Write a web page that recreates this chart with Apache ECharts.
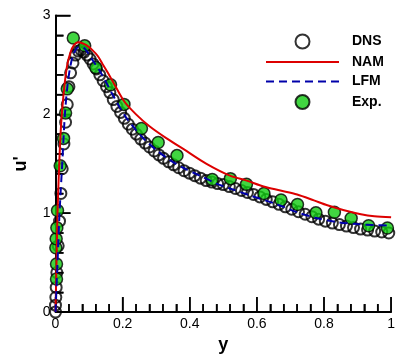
<!DOCTYPE html>
<html>
<head>
<meta charset="utf-8">
<script src="https://cdn.jsdelivr.net/npm/echarts@6/dist/echarts.min.js"></script>
<style>
  html, body { margin: 0; padding: 0; background: #fff; }
  #chart { width: 398px; height: 359px; }
</style>
</head>
<body>
<div id="chart"></div>
<script>
// DNS (open circles)
const dnsX = [0.000, 0.000, 0.001, 0.002, 0.004, 0.008, 0.012, 0.016, 0.020, 0.025, 0.030, 0.035, 0.040, 0.045,
  0.052, 0.060, 0.068, 0.076, 0.085, 0.094, 0.103, 0.112, 0.122, 0.132, 0.142, 0.152, 0.162, 0.172, 0.183,
  0.194, 0.205, 0.217, 0.229, 0.241, 0.254, 0.267, 0.280, 0.294, 0.308, 0.322, 0.337, 0.352, 0.367, 0.383,
  0.399, 0.415, 0.432, 0.449, 0.466, 0.483, 0.500, 0.518, 0.536, 0.554, 0.572, 0.590, 0.609, 0.628, 0.647,
  0.666, 0.685, 0.704, 0.724, 0.744, 0.764, 0.784, 0.804, 0.825, 0.846, 0.867, 0.888, 0.909, 0.930, 0.951,
  0.972, 0.993];
const dnsY = [0.00, 0.07, 0.15, 0.25, 0.40, 0.67, 0.92, 1.20, 1.45, 1.70, 1.92, 2.10, 2.28, 2.42,
  2.52, 2.60, 2.64, 2.65, 2.63, 2.60, 2.56, 2.51, 2.46, 2.40, 2.34, 2.28, 2.22, 2.15, 2.08,
  2.02, 1.96, 1.90, 1.85, 1.80, 1.75, 1.71, 1.67, 1.63, 1.59, 1.555, 1.52, 1.49, 1.46, 1.43,
  1.405, 1.38, 1.355, 1.33, 1.315, 1.30, 1.29, 1.27, 1.25, 1.23, 1.21, 1.19, 1.165, 1.14, 1.115,
  1.09, 1.065, 1.04, 1.015, 0.99, 0.965, 0.94, 0.92, 0.90, 0.885, 0.87, 0.855, 0.84, 0.83, 0.82,
  0.81, 0.80];

// NAM (red solid line)
const namX = [0.000, 0.003, 0.006, 0.010, 0.015, 0.020, 0.027, 0.035, 0.045, 0.055, 0.067, 0.080, 0.092,
  0.110, 0.126, 0.140, 0.156, 0.176, 0.205, 0.240, 0.280, 0.330, 0.390, 0.450, 0.520, 0.570, 0.620,
  0.670, 0.720, 0.770, 0.810, 0.860, 0.910, 0.950, 1.000];
const namY = [0.00, 0.50, 1.00, 1.40, 1.80, 2.05, 2.30, 2.50, 2.63, 2.70, 2.73, 2.72, 2.70,
  2.65, 2.59, 2.51, 2.42, 2.30, 2.13, 2.00, 1.88, 1.76, 1.63, 1.50, 1.38, 1.33, 1.27,
  1.23, 1.19, 1.13, 1.08, 1.03, 0.99, 0.97, 0.96];

// LFM (blue dashed line)
const lfmX = [0.000, 0.006, 0.012, 0.020, 0.028, 0.036, 0.045, 0.055, 0.068, 0.080, 0.095, 0.110, 0.130,
  0.150, 0.170, 0.190, 0.210, 0.240, 0.270, 0.300, 0.340, 0.380, 0.430, 0.480, 0.520, 0.580, 0.660,
  0.720, 0.780, 0.840, 0.900, 0.950, 1.000];
const lfmY = [0.00, 0.50, 1.00, 1.50, 2.00, 2.30, 2.50, 2.62, 2.68, 2.68, 2.63, 2.55, 2.45,
  2.33, 2.20, 2.08, 1.97, 1.84, 1.73, 1.64, 1.54, 1.46, 1.38, 1.30, 1.25, 1.18, 1.09,
  1.01, 0.95, 0.91, 0.89, 0.88, 0.876];

// Exp. (green dots)
const expX = [0.003, 0.003, 0.001, 0.002, 0.004, 0.006, 0.014, 0.024, 0.030, 0.035, 0.053, 0.087, 0.120,
  0.164, 0.204, 0.256, 0.306, 0.362, 0.467, 0.521, 0.569, 0.621, 0.672, 0.721, 0.776, 0.831, 0.881,
  0.933, 0.989];
const expY = [0.334, 0.486, 0.651, 0.741, 0.852, 1.028, 1.481, 1.757, 2.014, 2.258, 2.772, 2.693, 2.473,
  2.299, 2.101, 1.857, 1.715, 1.583, 1.341, 1.350, 1.292, 1.200, 1.133, 1.089, 1.004, 1.010, 0.949,
  0.873, 0.850];

// tick marks: major at labels, minor 4 between each pair
const xMajor = [0, 0.2, 0.4, 0.6, 0.8, 1];
const yMajor = [0, 1, 2, 3];
const minorSplit = 5;

const zip = (xs, ys) => xs.map((x, i) => [x, ys[i]]);

function axis(isX) {
  return {
    type: 'value', min: 0, max: isX ? 1 : 3, interval: isX ? 0.2 : 1,
    name: isX ? 'y' : "u'", nameLocation: 'middle', nameGap: isX ? 20 : 25, nameRotate: isX ? 0 : 90,
    nameTextStyle: { color: '#000', fontWeight: 'bold', fontSize: 18 },
    axisLine: { show: true, lineStyle: { color: '#000', width: 2 } },
    axisTick: { show: true, inside: true, length: 15, lineStyle: { color: '#000', width: 1.5 } },
    minorTick: { show: true, splitNumber: minorSplit, length: 8, lineStyle: { color: '#000', width: 1.5 } },
    splitLine: { show: false },
    axisLabel: { color: '#000', fontSize: 14, margin: 5 }
  };
}

let myChart = echarts.init(document.getElementById('chart'));
myChart.setOption({
  animation: false,
  grid: { left: 55.5, right: 3.5, top: 15.5, bottom: 33.5 },
  legend: {
    data: [
      { name: 'DNS' },
      { name: 'NAM', itemStyle: { opacity: 0 } },
      { name: 'LFM', itemStyle: { opacity: 0 } },
      { name: 'Exp.' }
    ],
    orient: 'vertical',
    left: 265, top: 33.5,
    padding: 0,
    itemWidth: 73, itemHeight: 14, itemGap: 5.5,
    textStyle: { color: '#000', fontWeight: 'bold', fontSize: 14, padding: [0, 0, 0, 8] }
  },
  xAxis: axis(true),
  yAxis: axis(false),
  series: [
    {
      name: 'DNS', type: 'scatter', data: zip(dnsX, dnsY), clip: false,
      symbol: 'circle', symbolSize: 11,
      itemStyle: { color: 'rgba(255,255,255,0)', borderColor: '#000', borderWidth: 2 }
    },
    {
      name: 'NAM', type: 'line', data: zip(namX, namY), symbol: 'none', showSymbol: false, smooth: 0.3,
      lineStyle: { color: '#dd0000', width: 2 }, itemStyle: { color: '#dd0000' }
    },
    {
      name: 'LFM', type: 'line', data: zip(lfmX, lfmY), symbol: 'none', showSymbol: false, smooth: 0.3,
      lineStyle: { color: '#0000aa', width: 2, type: [8, 5] }, itemStyle: { color: '#0000aa' }
    },
    {
      name: 'Exp.', type: 'scatter', data: zip(expX, expY), clip: false,
      symbol: 'circle', symbolSize: 12,
      itemStyle: { color: '#11cc11', borderColor: '#000', borderWidth: 1.5 }
    }
  ]
});

// axis ticks did not show up in this build, so draw them as graphics at the axis positions
function tickLine(x1, y1, x2, y2) {
  return { type: 'line', silent: true, z: 1,
    shape: { x1: x1, y1: y1, x2: x2, y2: y2 },
    style: { stroke: '#000', lineWidth: 1.5 } };
}
let ticks = [];
xMajor.forEach((v, i) => {
  let p = myChart.convertToPixel({ gridIndex: 0 }, [v, 0]);
  ticks.push(tickLine(p[0], p[1], p[0], p[1] - 15));
  if (i < xMajor.length - 1) {
    let step = (xMajor[i + 1] - v) / minorSplit;
    for (let k = 1; k < minorSplit; k++) {
      let q = myChart.convertToPixel({ gridIndex: 0 }, [v + k * step, 0]);
      ticks.push(tickLine(q[0], q[1], q[0], q[1] - 8));
    }
  }
});
yMajor.forEach((v, i) => {
  let p = myChart.convertToPixel({ gridIndex: 0 }, [0, v]);
  ticks.push(tickLine(p[0], p[1], p[0] + 15, p[1]));
  if (i < yMajor.length - 1) {
    let step = (yMajor[i + 1] - v) / minorSplit;
    for (let k = 1; k < minorSplit; k++) {
      let q = myChart.convertToPixel({ gridIndex: 0 }, [0, v + k * step]);
      ticks.push(tickLine(q[0], q[1], q[0] + 8, q[1]));
    }
  }
});
myChart.setOption({ graphic: { elements: ticks } });
</script>
</body>
</html>
